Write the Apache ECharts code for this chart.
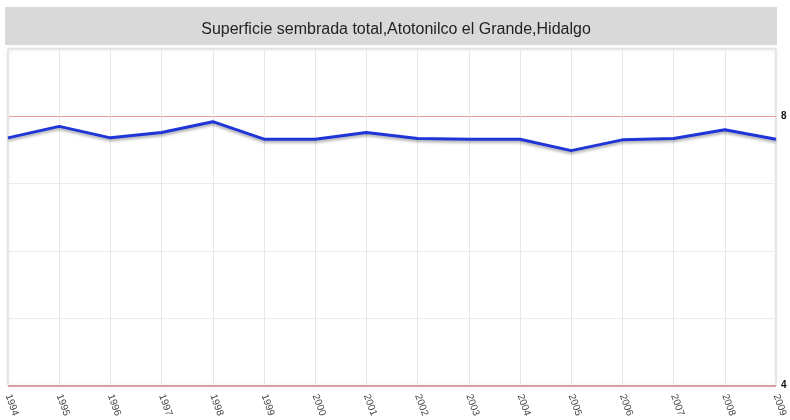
<!DOCTYPE html>
<html>
<head>
<meta charset="utf-8">
<script src="https://cdn.jsdelivr.net/npm/echarts@6/dist/echarts.min.js"></script>
<style>
  html, body { margin: 0; padding: 0; background: #fff; }
  #chart { width: 790px; height: 420px; }
</style>
</head>
<body>
<div id="chart"></div>
<script>
// datos
const years = ['1994', '1995', '1996', '1997', '1998', '1999', '2000', '2001',
               '2002', '2003', '2004', '2005', '2006', '2007', '2008', '2009']
const values = [7.68, 7.85, 7.68, 7.76, 7.92, 7.66, 7.66, 7.76,
                7.67, 7.66, 7.66, 7.49, 7.65, 7.67, 7.80, 7.66]
const shownTicks = [4, 8]
const titleText = 'Superficie sembrada total,Atotonilco el Grande,Hidalgo'

const mychart = echarts.init(document.getElementById('chart'))
mychart.setOption({
    animation: false,
    title: {
        text: titleText,
        left: 391,
        top: 17,
        textAlign: 'center',
        textStyle: {
            fontFamily: 'Liberation Sans',
            fontWeight: 'normal',
            fontSize: 16,
            color: '#222'
        }
    },
    graphic: [
        { // caja gris del titulo
            type: 'rect',
            z: -1,
            shape: { x: 5, y: 7, width: 772, height: 38 },
            style: { fill: '#d9d9d9' }
        }
    ],
    grid: {
        left: 8,
        right: 14,
        top: 49,
        bottom: 34,
        show: true,
        borderColor: '#cfcfcf',
        borderWidth: 1,
        shadowColor: 'rgba(0,0,0,0.15)',
        shadowBlur: 4
    },
    xAxis: {
        type: 'category',
        data: years,
        boundaryGap: false,
        axisLine: { show: false },
        axisTick: { show: false },
        axisLabel: {
            rotate: -70,
            fontSize: 10,
            color: '#444',
            margin: 9,
            interval: 0
        },
        splitLine: { show: true, lineStyle: { color: '#e6e6e6' } }
    },
    yAxis: {
        type: 'value',
        position: 'right',
        min: 4,
        max: 9,
        interval: 1,
        axisLine: { show: false },
        axisTick: { show: false },
        axisLabel: {
            margin: 5,
            fontSize: 10,
            fontWeight: 'bold',
            color: '#111',
            formatter: v => shownTicks.includes(v) ? String(v) : ''
        },
        splitLine: {
            lineStyle: {
                // 4 y 8 en rojo, resto gris
                color: ['#d9a0a0', '#ececec', '#ececec', '#ececec', '#e3a0a0', '#e6e6e6'],
                width: 1
            }
        }
    },
    series: [
        {
            type: 'line',
            data: values,
            symbol: 'none',
            lineStyle: {
                color: '#1f35d8',
                width: 3,
                shadowColor: 'rgba(0,0,0,0.35)',
                shadowBlur: 3,
                shadowOffsetY: 2
            },
            markLine: {
                silent: true,
                symbol: 'none',
                label: { show: false },
                lineStyle: { color: '#d9a0a0', type: 'solid', width: 2 },
                data: [{ yAxis: 4 }]
            }
        }
    ]
})
</script>
</body>
</html>
